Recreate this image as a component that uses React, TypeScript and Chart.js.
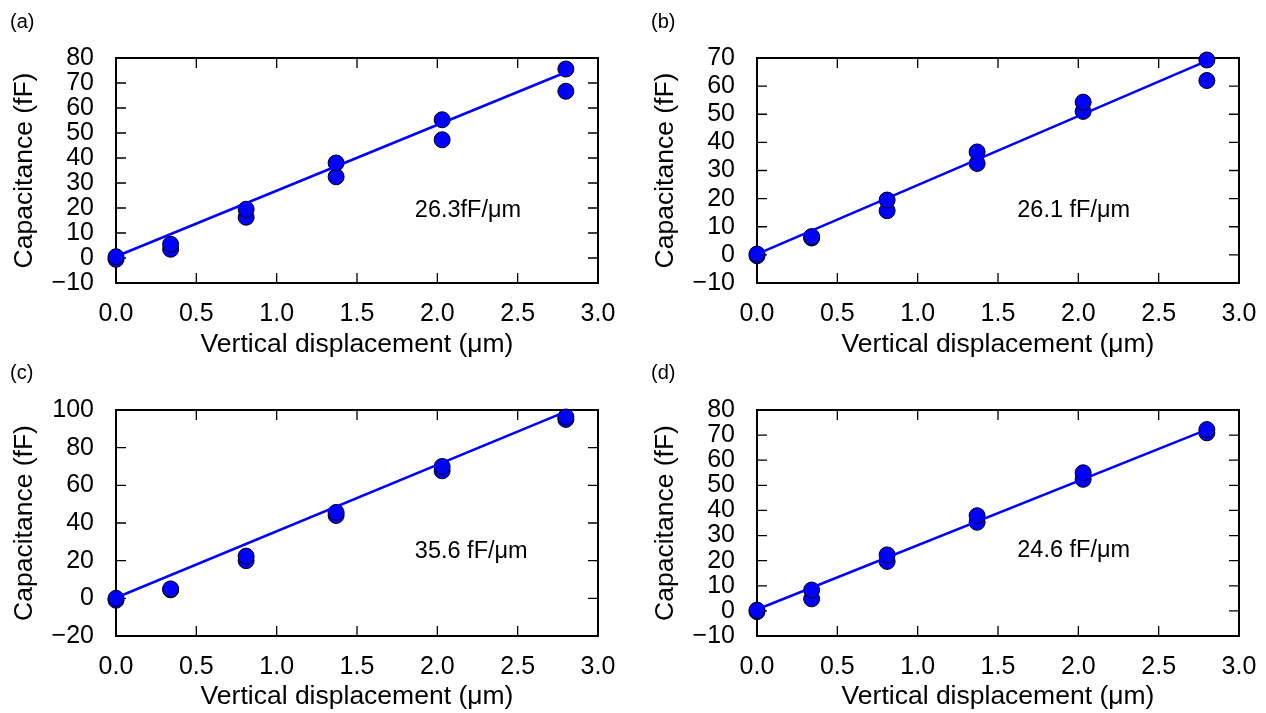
import React, { useEffect, useRef } from "react";
import { Chart, registerables } from "chart.js";

Chart.register(...registerables);

// Shared x positions (vertical displacement, µm)
const xPositions = [0, 0.34, 0.81, 1.37, 2.03, 2.8];
const fitX = [0, 2.8];

// Panel (a)
const aUpper = [0.5, 5.5, 19.5, 38, 55.3, 75.6];
const aLower = [-0.5, 3.5, 16.3, 32.5, 47.3, 66.7];
const aFit = [0.6, 74.3];
const aLabel = "26.3fF/μm";

// Panel (b)
const bUpper = [0.3, 6.5, 19.5, 36.6, 54.3, 69.3];
const bLower = [-0.3, 6.0, 15.7, 32.5, 51, 62];
const bFit = [0.3, 69];
const bLabel = "26.1 fF/μm";

// Panel (c)
const cUpper = [0, 5, 22.4, 45.6, 70, 96.3];
const cLower = [-1, 4.5, 20, 44, 67.7, 95];
const cFit = [0.3, 99.1];
const cLabel = "35.6 fF/μm";

// Panel (d)
const dUpper = [0.3, 8.3, 22.3, 37.9, 55, 72.2];
const dLower = [-0.3, 4.8, 19.7, 35.3, 52.4, 70.9];
const dFit = [0.55, 72.2];
const dLabel = "24.6 fF/μm";

const xTitle = "Vertical displacement (μm)";
const yTitle = "Capacitance (fF)";

const FONT = "'Liberation Sans', Arial, Helvetica, sans-serif";
const BLUE = "#0000ff";
const TICK = 10;

type Panel = {
  key: string;
  tag: string;
  upper: number[];
  lower: number[];
  fit: number[];
  note: string;
  noteX: number;
  noteY: number;
  yMin: number;
  yMax: number;
  yStep: number;
  box: { left: number; top: number; width: number; height: number };
  area: { L: number; T: number; R: number; B: number };
  yTitlePad: number;
  xTitlePad: number;
  xTickPad: number;
  tagX: number;
  tagY: number;
};

const panels: Panel[] = [
  {
    key: "a", tag: "(a)", upper: aUpper, lower: aLower, fit: aFit, note: aLabel,
    noteX: 1.86, noteY: 18.8, yMin: -10, yMax: 80, yStep: 10,
    box: { left: 0, top: 0, width: 633, height: 365 },
    area: { L: 116, T: 58, R: 598, B: 283 },
    yTitlePad: 8.4, xTitlePad: 4, xTickPad: 8.5, tagX: 10, tagY: 28,
  },
  {
    key: "b", tag: "(b)", upper: bUpper, lower: bLower, fit: bFit, note: bLabel,
    noteX: 1.62, noteY: 15.6, yMin: -10, yMax: 70, yStep: 10,
    box: { left: 633, top: 0, width: 633, height: 365 },
    area: { L: 124, T: 58, R: 606, B: 283 },
    yTitlePad: 16.4, xTitlePad: 4, xTickPad: 8.5, tagX: 18, tagY: 28,
  },
  {
    key: "c", tag: "(c)", upper: cUpper, lower: cLower, fit: cFit, note: cLabel,
    noteX: 1.86, noteY: 25.1, yMin: -20, yMax: 100, yStep: 20,
    box: { left: 0, top: 356, width: 633, height: 357 },
    area: { L: 116, T: 54, R: 598, B: 280 },
    yTitlePad: 8.4, xTitlePad: 0, xTickPad: 8, tagX: 10, tagY: 23,
  },
  {
    key: "d", tag: "(d)", upper: dUpper, lower: dLower, fit: dFit, note: dLabel,
    noteX: 1.62, noteY: 23.9, yMin: -10, yMax: 80, yStep: 10,
    box: { left: 633, top: 356, width: 633, height: 357 },
    area: { L: 124, T: 54, R: 606, B: 280 },
    yTitlePad: 16.4, xTitlePad: 0, xTickPad: 8, tagX: 18, tagY: 23,
  },
];

function fmtY(v: number) {
  const r = Math.round(v);
  return r < 0 ? "\u2212" + Math.abs(r) : String(r);
}

function PanelChart({ p }: { p: Panel }) {
  const ref = useRef<HTMLCanvasElement | null>(null);
  useEffect(() => {
    const canvas = ref.current;
    if (!canvas) return;
    const { width: W, height: H } = p.box;
    const { L, T, R, B } = p.area;

    const decor = {
      id: "decor_" + p.key,
      beforeDatasetsDraw(chart: any) {
        const { ctx, chartArea } = chart;
        const { left, right, top, bottom } = chartArea;
        const xs = chart.scales.x;
        const ys = chart.scales.y;
        ctx.save();
        ctx.strokeStyle = "#000";
        ctx.lineWidth = 1.3;
        ctx.beginPath();
        xs.ticks.forEach((t: any) => {
          const px = xs.getPixelForValue(t.value);
          ctx.moveTo(px, bottom);
          ctx.lineTo(px, bottom - TICK);
          ctx.moveTo(px, top);
          ctx.lineTo(px, top + TICK);
        });
        ys.ticks.forEach((t: any) => {
          const py = ys.getPixelForValue(t.value);
          ctx.moveTo(left, py);
          ctx.lineTo(left + TICK, py);
          ctx.moveTo(right, py);
          ctx.lineTo(right - TICK, py);
        });
        ctx.stroke();
        ctx.lineWidth = 2;
        ctx.strokeRect(left, top, right - left, bottom - top);
        ctx.restore();
      },
      afterDraw(chart: any) {
        const { ctx } = chart;
        const xs = chart.scales.x;
        const ys = chart.scales.y;
        ctx.save();
        ctx.fillStyle = "#000";
        ctx.font = `23.5px ${FONT}`;
        ctx.textAlign = "left";
        ctx.textBaseline = "middle";
        ctx.fillText(p.note, xs.getPixelForValue(p.noteX), ys.getPixelForValue(p.noteY));
        ctx.font = `20px ${FONT}`;
        ctx.textBaseline = "alphabetic";
        ctx.fillText(p.tag, p.tagX, p.tagY);
        ctx.restore();
      },
    };

    const chart = new Chart(canvas, {
      type: "scatter",
      data: {
        datasets: [
          {
            type: "line",
            label: "fit",
            data: fitX.map((x, i) => ({ x, y: p.fit[i] })),
            borderColor: BLUE,
            borderWidth: 2.5,
            pointRadius: 0,
            showLine: true,
            fill: false,
            order: 0,
            clip: false as any,
          } as any,
          {
            label: "upper",
            data: xPositions.map((x, i) => ({ x, y: p.upper[i] })),
            backgroundColor: BLUE,
            borderColor: "#000",
            borderWidth: 1,
            pointRadius: 8,
            order: 1,
            clip: false as any,
          },
          {
            label: "lower",
            data: xPositions.map((x, i) => ({ x, y: p.lower[i] })),
            backgroundColor: BLUE,
            borderColor: "#000",
            borderWidth: 1,
            pointRadius: 8,
            order: 2,
            clip: false as any,
          },
        ],
      },
      options: {
        responsive: false,
        animation: false,
        devicePixelRatio: 1,
        layout: { padding: { left: 0, top: T, right: W - R, bottom: 0 } },
        plugins: { legend: { display: false }, tooltip: { enabled: false } },
        scales: {
          x: {
            type: "linear",
            min: 0,
            max: 3,
            grid: { display: false },
            border: { display: false },
            ticks: {
              stepSize: 0.5,
              autoSkip: false,
              padding: p.xTickPad,
              color: "#000",
              font: { family: FONT, size: 25, lineHeight: 1.2 },
              maxRotation: 0,
              callback: (v: any) => Number(v).toFixed(1),
            },
            title: {
              display: true,
              text: xTitle,
              color: "#000",
              font: { family: FONT, size: 26.5, lineHeight: 1.2 },
              padding: { top: 0, bottom: p.xTitlePad },
            },
            afterFit: (s: any) => {
              s.height = H - B;
            },
          },
          y: {
            type: "linear",
            min: p.yMin,
            max: p.yMax,
            grid: { display: false },
            border: { display: false },
            ticks: {
              stepSize: p.yStep,
              autoSkip: false,
              padding: 14,
              color: "#000",
              font: { family: FONT, size: 25, lineHeight: 1.0 },
              callback: (v: any) => fmtY(Number(v)),
            },
            title: {
              display: true,
              text: yTitle,
              color: "#000",
              font: { family: FONT, size: 26.5, lineHeight: 1.2 },
              padding: { top: p.yTitlePad, bottom: 0 },
            },
            afterFit: (s: any) => {
              s.width = L;
            },
          },
        },
      },
      plugins: [decor],
    } as any);
    return () => chart.destroy();
  }, [p]);

  return (
    <canvas
      ref={ref}
      width={p.box.width}
      height={p.box.height}
      style={{
        position: "absolute",
        left: p.box.left,
        top: p.box.top,
        width: p.box.width,
        height: p.box.height,
      }}
    />
  );
}

export default function App() {
  return (
    <div
      style={{
        position: "absolute",
        left: 0,
        top: 0,
        width: 1266,
        height: 713,
        background: "#fff",
        overflow: "hidden",
      }}
    >
      {panels.map((p) => (
        <PanelChart key={p.key} p={p} />
      ))}
    </div>
  );
}
